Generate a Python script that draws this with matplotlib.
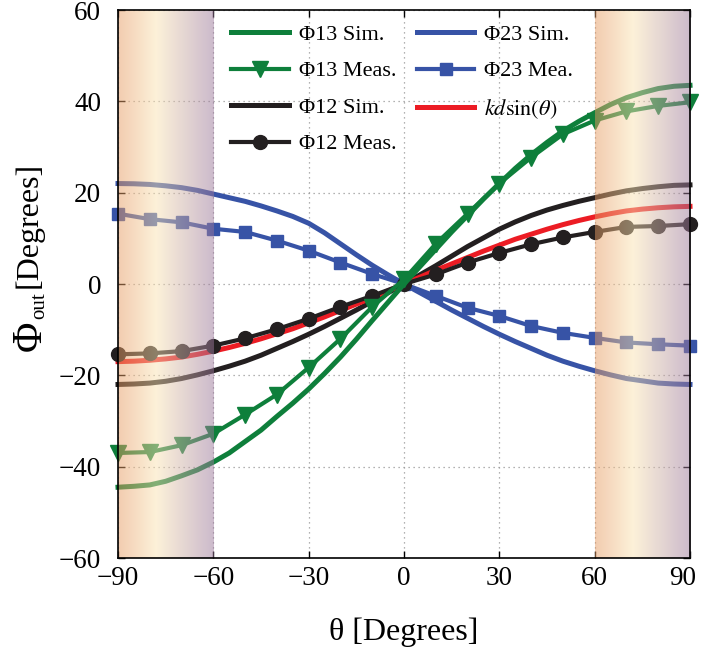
import numpy as np
import matplotlib.pyplot as plt
import matplotlib.transforms as mtransforms
from matplotlib.lines import Line2D

plt.rcParams['font.family'] = ['Liberation Serif', 'DejaVu Serif']
plt.rcParams['mathtext.fontset'] = 'stix'

# angle grids (degrees)
theta_sim = list(range(-90, 91, 5))
theta_meas = list(range(-90, 91, 10))

# simulated curves (5 deg steps)
phi13_sim = [-44.5, -44.3, -44, -43.2, -42, -40.7, -39, -37, -34.5, -32, -29, -26.1, -23, -19.6, -16, -12.1, -8, -4, 0,
             3.8, 7.6, 11.4, 15, 18.6, 22, 25.3, 28.3, 31, 33.5, 35.6, 37.5, 39.3, 40.8, 41.9, 42.8, 43.3, 43.5]
phi23_sim = [22, 21.95, 21.8, 21.5, 21.1, 20.5, 19.7, 18.9, 18.1, 17.1, 16.0, 14.8, 13.3, 11.2, 8.8, 6.4, 4.1, 2.0, 0,
             -1.9, -3.8, -5.7, -7.5, -9.3, -11, -12.6, -14.1, -15.6, -16.9, -18, -19, -19.9, -20.7, -21.2, -21.7, -21.9, -22]
phi12_sim = [-22, -21.9, -21.7, -21.3, -20.7, -19.9, -19, -18, -16.9, -15.6, -14.1, -12.6, -11, -9.3, -7.5, -5.7, -3.8, -1.9, 0,
             2, 4, 6.1, 8.2, 10.1, 12, 13.6, 15, 16.2, 17.2, 18.1, 18.9, 19.7, 20.4, 20.9, 21.3, 21.6, 21.7]
kd_sin = [-17, -16.9, -16.7, -16.4, -16, -15.4, -14.7, -13.9, -13, -12, -10.9, -9.8, -8.5, -7.2, -5.8, -4.4, -3.0, -1.5, 0,
          1.5, 3.0, 4.4, 5.8, 7.2, 8.5, 9.8, 10.9, 12, 13, 13.9, 14.7, 15.4, 16, 16.4, 16.7, 16.9, 17]

# measured curves (10 deg steps)
phi13_meas = [-37, -36.8, -35.3, -32.8, -28.6, -24.2, -18.3, -12, -5, 1, 8.8, 15.4, 22, 27.7, 32.8, 35.8, 37.8, 39, 39.8]
phi12_meas = [-15.4, -15.2, -14.7, -13.5, -11.9, -9.9, -7.6, -5, -2.6, 0, 2.1, 4.7, 6.8, 8.7, 10.2, 11.4, 12.5, 12.7, 13.1]
phi23_meas = [15.4, 14.2, 13.5, 12.1, 11.4, 9.5, 7.3, 4.7, 2.2, 0, -2.6, -5.2, -7.0, -9.2, -10.7, -11.8, -12.8, -13.2, -13.5]

# shaded angle ranges
shade_ranges = [(-90, -60), (60, 90)]

green = '#0e7f3b'
blue = '#3753a6'
black = '#231f20'
red = '#ec1c24'

fig = plt.figure(figsize=(7.01, 6.54), dpi=100)
ax = fig.add_axes([118 / 701, 96 / 654, 572 / 701, 548 / 654])

lw_sim = 3.6
lw_meas = 3.0
ax.plot(theta_sim, phi23_sim, color=blue, lw=lw_sim, label='\u03a623 Sim.', zorder=3, clip_on=False)
ax.plot(theta_meas, phi23_meas, color=blue, lw=lw_meas, marker='s', ms=9, label='\u03a623 Mea.', zorder=3.1, clip_on=False)
ax.plot(theta_sim, phi12_sim, color=black, lw=lw_sim, label='\u03a612 Sim.', zorder=3.2, clip_on=False)
ax.plot(theta_sim, kd_sin, color=red, lw=lw_sim, label=r'$kd\mathrm{sin}(\theta)$', zorder=3.3, clip_on=False)
ax.plot(theta_meas, phi12_meas, color=black, lw=lw_meas, marker='o', ms=10, label='\u03a612 Meas.', zorder=3.4, clip_on=False)
ax.plot(theta_sim, phi13_sim, color=green, lw=lw_sim, label='\u03a613 Sim.', zorder=3.5, clip_on=False)
ax.plot(theta_meas, phi13_meas, color=green, lw=lw_meas, marker='v', ms=11, label='\u03a613 Meas.', zorder=3.6, clip_on=False)

# gradient overlay (peach -> pale yellow -> lavender), semi transparent
stops = np.array([0.0, 0.4, 1.0])
cols = np.array([[0.90, 0.60, 0.38], [0.98, 0.89, 0.70], [0.60, 0.46, 0.60]])
xs = np.linspace(0, 1, 256)
grad = np.ones((1, 256, 4))
for k in range(3):
    grad[0, :, k] = np.interp(xs, stops, cols[:, k])
grad[0, :, 3] = 0.5
for a, b in shade_ranges:
    ax.imshow(grad, extent=(a, b, -60, 60), aspect='auto', zorder=5, interpolation='bilinear')

ax.set_xlim(-90, 90)
ax.set_ylim(-60, 60)
ax.set_xticks([-90, -60, -30, 0, 30, 60, 90])
ax.set_yticks([-60, -40, -20, 0, 20, 40, 60])
ax.tick_params(direction='in', top=True, right=True, length=5, width=1.0, labelsize=19.5)
ax.tick_params(axis='x', pad=6)
ax.tick_params(axis='y', pad=12)
ax.grid(True, color='#999999', linestyle=(0, (1, 3)), linewidth=0.9)
for s in ax.spines.values():
    s.set_linewidth(1.2)
    s.set_zorder(6)

# nudge the last x tick label so it stays inside the figure
last = ax.get_xticklabels()[-1]
last.set_transform(last.get_transform() + mtransforms.ScaledTranslation(-7 / 100, 0, fig.dpi_scale_trans))

ax.set_xlabel('\u03b8 [Degrees]', fontsize=23, labelpad=19)

# y label built from pieces so the Phi can be bigger than the rest
fig.text(30 / 701, 1 - 336 / 654, '\u03a6', rotation=90, fontsize=30, ha='center', va='center')
fig.text(40 / 701, 1 - 306 / 654, 'out', rotation=90, fontsize=15, ha='center', va='center')
fig.text(29 / 701, 1 - 225 / 654, '[Degrees]', rotation=90, fontsize=23, ha='center', va='center')

h, l = ax.get_legend_handles_labels()
order = [5, 6, 2, 4, 0, 1, 3]
handles = [h[i] for i in order]
labels = [l[i] for i in order]
handles.append(Line2D([], [], color='none'))
labels.append('')
leg = ax.legend(handles, labels, ncol=2, loc='upper left', bbox_to_anchor=(0.198, 0.974),
                frameon=False, fontsize=16, handlelength=2.6, handletextpad=0.45,
                labelspacing=0.72, columnspacing=0.9, borderaxespad=0, borderpad=0)
leg.set_zorder(7)

fig.savefig('out.png', dpi=100)
